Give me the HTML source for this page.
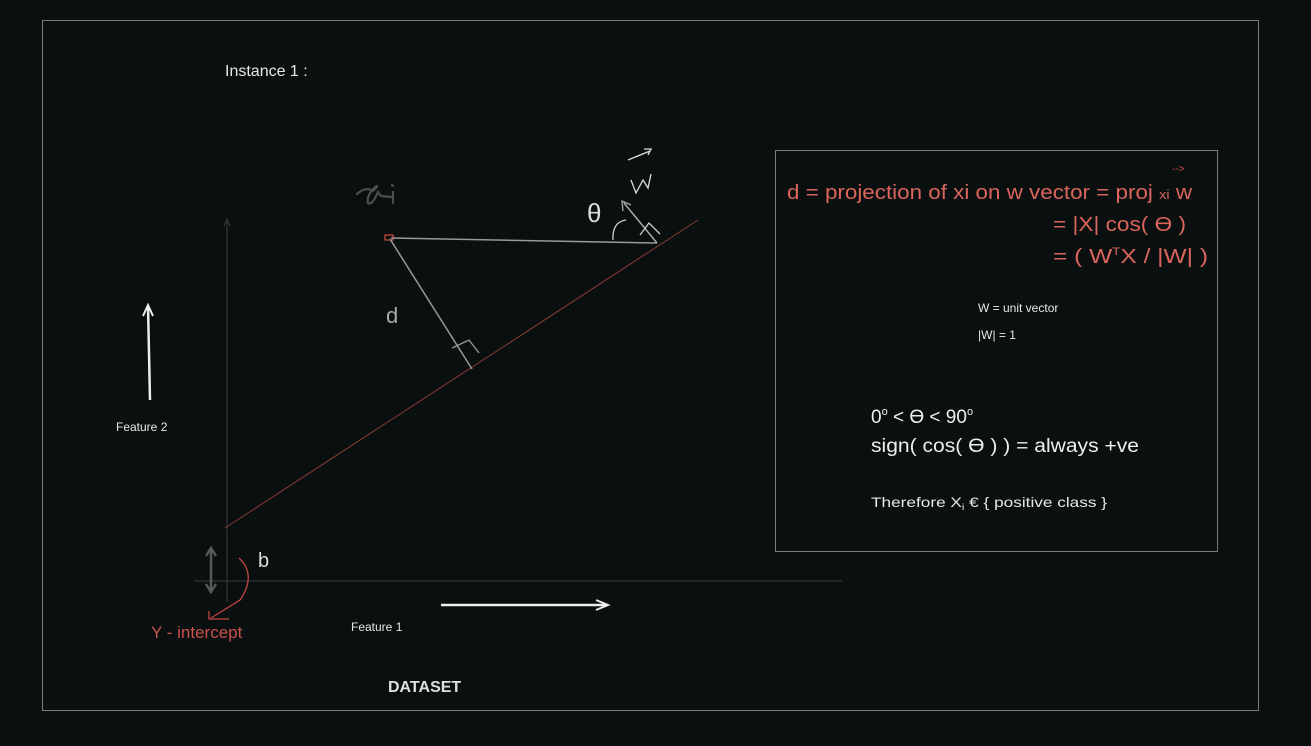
<!DOCTYPE html>
<html><head><meta charset="utf-8"><style>
html,body{margin:0;padding:0;background:#0a0f0f;}
svg{display:block;font-family:"Liberation Sans",sans-serif;}
</style></head><body>
<svg width="1311" height="746" viewBox="0 0 1311 746">
<rect x="0" y="0" width="1311" height="746" fill="#0a0f0f"/>
<rect x="42.5" y="20.5" width="1216" height="690" fill="none" stroke="#7a7d7d" stroke-width="1"/>
<text x="225" y="76" fill="#e8e8e8" font-size="16">Instance 1 :</text>

<line x1="227" y1="220" x2="227" y2="602" stroke="#3a3e3e" stroke-width="1"/>
<path d="M224,226 L227,219 L230,226" fill="none" stroke="#3a3e3e"/>
<line x1="194" y1="581" x2="842" y2="581" stroke="#3a3e3e" stroke-width="1"/>

<line x1="225" y1="528" x2="698" y2="220" stroke="#8a3a36" stroke-width="1"/>

<rect x="385" y="235" width="8" height="5" fill="none" stroke="#d04a40" stroke-width="1.2"/>
<path d="M357,194 Q366,186 373,191 Q380,184 375,187 Q366,196 368,203 Q372,206 378,192 L381,196 L392,197 M393,192 L393,203 M392,185 L393,186" fill="none" stroke="#4a4f4f" stroke-width="2.2" stroke-linecap="round"/>

<line x1="391" y1="238" x2="657" y2="243" stroke="#9a9a9a" stroke-width="1.5"/>
<line x1="390" y1="239" x2="472" y2="369" stroke="#9a9a9a" stroke-width="1.5"/>
<path d="M452,348 L469,340 L479,353" fill="none" stroke="#9a9a9a" stroke-width="1.3"/>
<text x="386" y="323" fill="#aaaaaa" font-size="22">d</text>

<line x1="657" y1="243" x2="624" y2="203" stroke="#aaaaaa" stroke-width="1.5"/>
<path d="M623,211 L622,201 L631,205" fill="none" stroke="#aaaaaa" stroke-width="1.3"/>
<path d="M613,240 Q612,222 626,220 M640,235 L649,223 L660,234" fill="none" stroke="#cccccc" stroke-width="1.3"/>
<text x="587" y="222" fill="#dddddd" font-size="26">θ</text>
<path d="M614,160 L636,151 M630,149 L637,149 L634,155 M617,180 L622,193 L629,180 L634,188 L637,174" fill="none" stroke="#dddddd" stroke-width="1.3" transform="translate(14,0)"/>

<line x1="150" y1="400" x2="148" y2="306" stroke="#eeeeee" stroke-width="2.5"/>
<path d="M143,316 L148,305 L153,316" fill="none" stroke="#eeeeee" stroke-width="2"/>
<text x="116" y="431" fill="#e8e8e8" font-size="12">Feature 2</text>
<line x1="441" y1="605" x2="606" y2="605" stroke="#eeeeee" stroke-width="2.5"/>
<path d="M596,600 L608,605 L596,610" fill="none" stroke="#eeeeee" stroke-width="2"/>
<text x="351" y="631" fill="#e8e8e8" font-size="12">Feature 1</text>
<text x="388" y="692" fill="#e0e0e0" font-size="16" font-weight="bold">DATASET</text>

<line x1="211" y1="550" x2="211" y2="590" stroke="#555a5a" stroke-width="2.5"/>
<path d="M206,556 L211,548 L216,556 M206,584 L211,592 L216,584" fill="none" stroke="#555a5a" stroke-width="2.5"/>
<path d="M239,558 Q257,575 240,600 L211,618 M209,611 L209,619 L229,619" fill="none" stroke="#c0453e" stroke-width="1.3"/>
<text x="258" y="567" fill="#dddddd" font-size="20">b</text>
<text x="151" y="638" fill="#c9524a" font-size="17">Y - intercept</text>

<rect x="775.5" y="150.5" width="442" height="401" fill="none" stroke="#7a7d7d" stroke-width="1"/>
<text x="1172" y="172" fill="#c9524a" font-size="10">--&gt;</text>
<text x="787" y="199" fill="#d9655c" font-size="20" textLength="405" lengthAdjust="spacingAndGlyphs">d = projection of xi on w vector = proj <tspan font-size="13">xi</tspan> w</text>
<text x="1053" y="231" fill="#d9655c" font-size="20" textLength="133" lengthAdjust="spacingAndGlyphs">= |X| cos( ϴ )</text>
<text x="1053" y="263" fill="#d9655c" font-size="20" textLength="155" lengthAdjust="spacingAndGlyphs">= ( W<tspan font-size="11" dy="-8">T</tspan><tspan dy="8">X / |W| )</tspan></text>
<text x="978" y="312" fill="#e8e8e8" font-size="12">W = unit vector</text>
<text x="978" y="339" fill="#e8e8e8" font-size="12">|W| = 1</text>
<text x="871" y="423" fill="#eeeeee" font-size="19">0<tspan font-size="11" dy="-8">o</tspan><tspan dy="8"> &lt; ϴ &lt; 90</tspan><tspan font-size="11" dy="-8">o</tspan></text>
<text x="871" y="452" fill="#eeeeee" font-size="19" textLength="268" lengthAdjust="spacingAndGlyphs">sign( cos( ϴ ) ) = always +ve</text>
<text x="871" y="507" fill="#e8e8e8" font-size="14" textLength="236" lengthAdjust="spacingAndGlyphs">Therefore X<tspan font-size="9" dy="3">i</tspan><tspan dy="-3">  €   { positive class }</tspan></text>
</svg>
</body></html>
